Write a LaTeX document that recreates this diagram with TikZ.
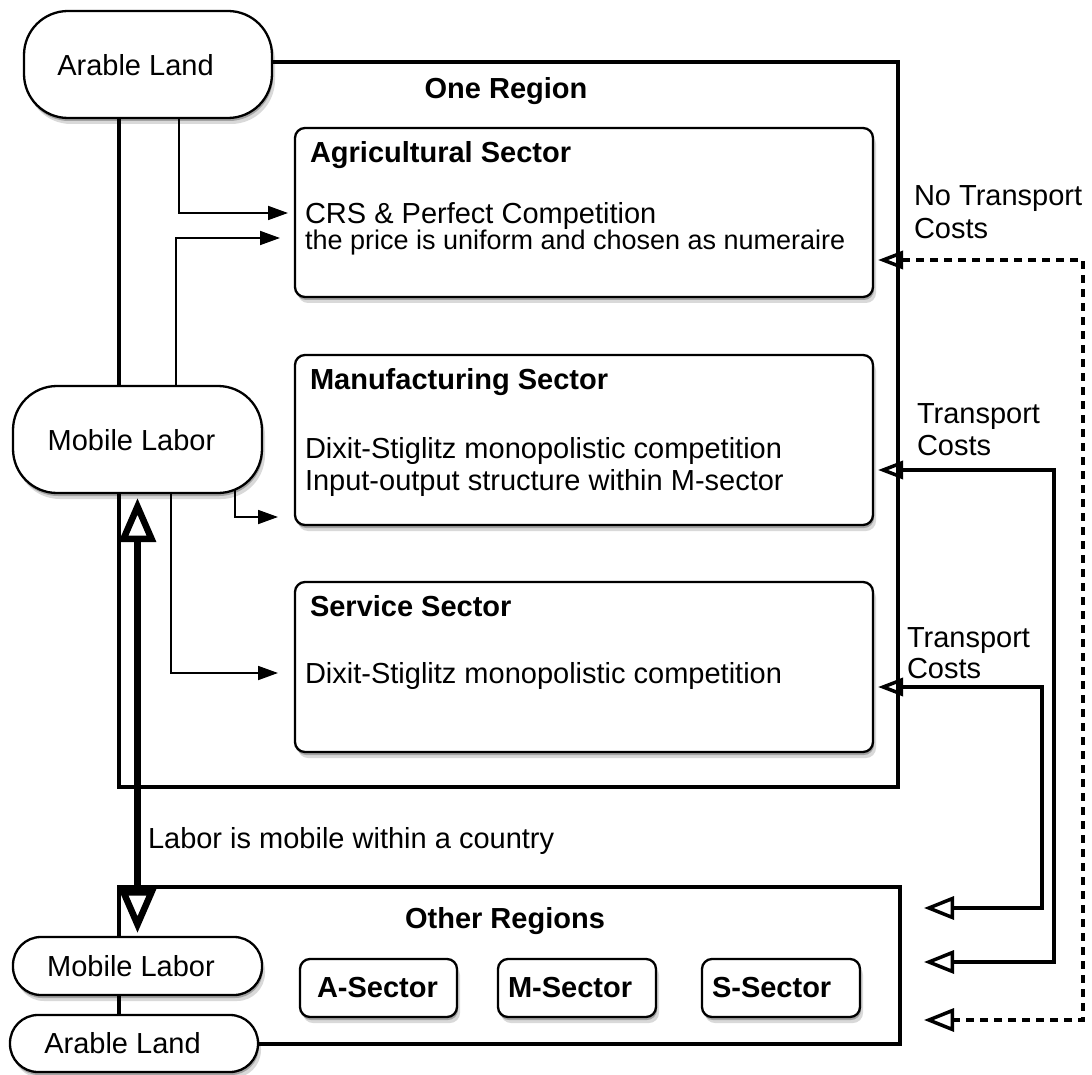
\documentclass[tikz,border=0pt]{standalone}
\usepackage{fontspec}
\setmainfont{Liberation Sans}
\usetikzlibrary{arrows.meta,shadows}
\pgfdeclarelayer{bg}
\pgfsetlayers{bg,main}
\begin{document}
\begin{tikzpicture}[x=1pt,y=-1pt,
  every node/.style={inner sep=0pt, outer sep=0pt},
  shad/.style={drop shadow={shadow xshift=1pt, shadow yshift=-3pt, opacity=0.25, fill=black},
               drop shadow={shadow xshift=3pt, shadow yshift=-6pt, opacity=0.15, fill=black}},
  regionbox/.style={draw, line width=4.5pt, rectangle},
  sectorbox/.style={draw, line width=2.3pt, rounded corners=10pt, fill=white, shad},
  stadium/.style={draw, line width=2.3pt, rounded corners=44pt, fill=white, shad},
  lowstadium/.style={draw, line width=2.3pt, rounded corners=28pt, fill=white, shad},
  smallbox/.style={draw, line width=2.3pt, rounded corners=10pt, fill=white, shad},
  txt/.style={text height=20.9pt, text depth=0pt, font=\fontsize{29}{33}\selectfont},
  smalltxt/.style={text height=19.4pt, text depth=0pt, font=\fontsize{27}{31}\selectfont},
  boldtxt/.style={text height=20.9pt, text depth=0pt, font=\fontsize{29}{33}\selectfont\bfseries},
  thinarr/.style={line width=1.8pt, -{Triangle[length=20pt,width=14pt]}},
  tcarr/.style={line width=3.5pt, {Triangle[open,length=25pt,width=18pt]}-{Triangle[open,length=30pt,width=23pt]}},
  dasharr/.style={tcarr, dash pattern=on 8pt off 6pt},
  thickarr/.style={line width=7pt, {Triangle[open,length=44pt,width=36pt,line width=6.5pt]}-{Triangle[open,length=44pt,width=36pt,line width=6.5pt]}}
]
\useasboundingbox (0,0) rectangle (1092,1075);

% ---------- region frames (behind everything) ----------
\begin{pgfonlayer}{bg}
\node[regionbox, minimum width=779pt, minimum height=725pt] (region) at (508.5,424.5) {};
\node[regionbox, minimum width=781pt, minimum height=157pt] (other) at (509.5,965.5) {};
\end{pgfonlayer}

% ---------- sector boxes ----------
\node[sectorbox, minimum width=578pt, minimum height=169pt] (agri) at (584,212.5) {};
\node[sectorbox, minimum width=578pt, minimum height=170pt] (manu) at (584,440) {};
\node[sectorbox, minimum width=578pt, minimum height=170pt] (serv) at (584,667) {};

\node[boldtxt, anchor=west] (agrit) at (310,152) {Agricultural Sector};
\node[txt, anchor=west] (crs) at (305,213) {CRS \& Perfect Competition};
\node[smalltxt, anchor=west] (price) at (305,240) {the price is uniform and chosen as numeraire};

\node[boldtxt, anchor=west] (manut) at (310,379) {Manufacturing Sector};
\node[txt, anchor=west] (dixit1) at (305,448) {Dixit-Stiglitz monopolistic competition};
\node[txt, anchor=west] (inout) at (305,480) {Input-output structure within M-sector};

\node[boldtxt, anchor=west] (servt) at (310,606) {Service Sector};
\node[txt, anchor=west] (dixit2) at (305,673) {Dixit-Stiglitz monopolistic competition};

\node[boldtxt] (onet) at (506,88) {One Region};
\node[boldtxt] (othert) at (505,918) {Other Regions};

% ---------- factor nodes ----------
\node[stadium, minimum width=248pt, minimum height=107pt] (al1) at (148,64.5) {};
\node[txt] (al1t) at (135.5,65) {Arable Land};
\node[stadium, minimum width=249pt, minimum height=107pt] (ml1) at (137.5,439.5) {};
\node[txt] (ml1t) at (131.5,440) {Mobile Labor};
\node[lowstadium, minimum width=249pt, minimum height=58pt] (ml2) at (137.5,966) {};
\node[txt] (ml2t) at (131,966) {Mobile Labor};
\node[lowstadium, minimum width=248pt, minimum height=57pt] (al2) at (134,1043.5) {};
\node[txt] (al2t) at (122.5,1043) {Arable Land};

% ---------- other-region sector boxes ----------
\node[smallbox, minimum width=157pt, minimum height=58pt] (asec) at (378.5,988) {};
\node[boldtxt, anchor=west] (asect) at (317,987) {A-Sector};
\node[smallbox, minimum width=158pt, minimum height=58pt] (msec) at (577,988) {};
\node[boldtxt, anchor=west] (msect) at (508,987) {M-Sector};
\node[smallbox, minimum width=158pt, minimum height=58pt] (ssec) at (781,988) {};
\node[boldtxt, anchor=west] (ssect) at (712,987) {S-Sector};

% ---------- labels ----------
\node[txt, anchor=west] (labort) at (148,838) {Labor is mobile within a country};
\node[txt, anchor=west] (nt1) at (914,195) {No Transport};
\node[txt, anchor=west] (nt2) at (914,228) {Costs};
\node[txt, anchor=west] (mt1) at (917,413) {Transport};
\node[txt, anchor=west] (mt2) at (917,445) {Costs};
\node[txt, anchor=west] (st1) at (907,637) {Transport};
\node[txt, anchor=west] (st2) at (907,668) {Costs};

% ---------- connectors ----------
\begin{pgfonlayer}{bg}
\draw[thinarr, shorten >=17pt] ([xshift=31pt]al1.south) |- (crs.west);
\draw[thinarr, shorten >=25pt] ([xshift=38.5pt]ml1.north) |- ([yshift=2pt]price.west);
\draw[thinarr, shorten >=17pt] ([xshift=97.5pt]ml1.center) |- ([yshift=-77pt]manu.west);
\draw[thinarr, shorten >=27pt] ([xshift=33.5pt]ml1.south) |- (dixit2.west);

\draw[thickarr, shorten <=5pt, shorten >=4pt] (ml1.south) -- (ml2.north);

\draw[dasharr, shorten <=5pt, shorten >=24pt] ([yshift=-47.5pt]agri.east) -| (1083,1020) -- (other.east |- 0,1020);
\draw[tcarr, shorten <=5pt, shorten >=24pt] ([yshift=-30pt]manu.east) -| (1054,962) -- (other.east |- 0,962);
\draw[tcarr, shorten <=5pt, shorten >=24pt] ([yshift=-20pt]serv.east) -| (1042,908) -- (other.east |- 0,908);
\end{pgfonlayer}
\end{tikzpicture}
\end{document}
